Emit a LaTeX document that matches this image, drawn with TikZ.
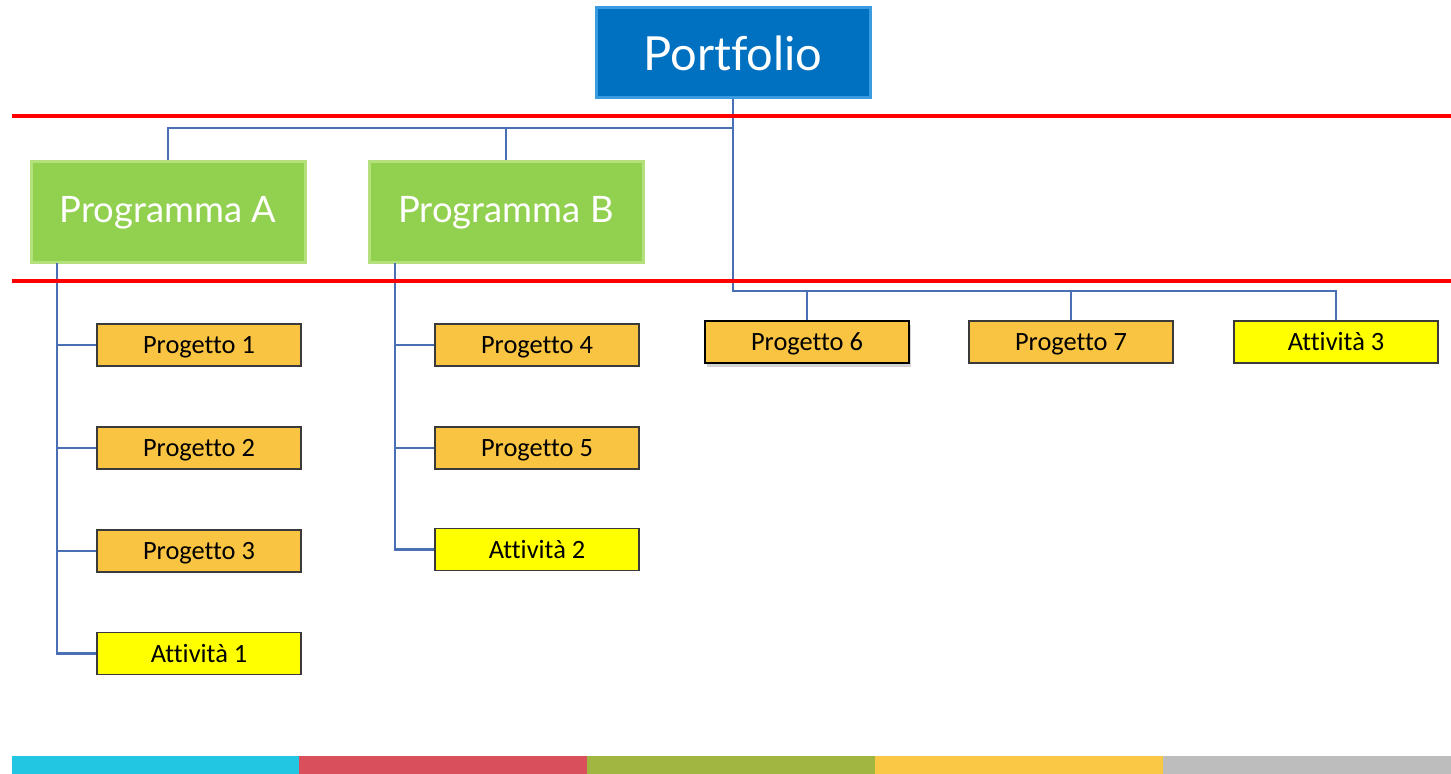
\documentclass[tikz,border=0pt]{standalone}
\usepackage{fontspec}
\setmainfont[Ligatures={NoCommon}]{Carlito}
\newfontfamily\latofont[Ligatures={NoCommon}]{Lato}
\usetikzlibrary{shadows}
\definecolor{pblue}{HTML}{0070C0}
\definecolor{pbluelight}{HTML}{3A9BE0}
\definecolor{pgreen}{HTML}{92D050}
\definecolor{pgreenlight}{HTML}{B4E07E}
\definecolor{porange}{HTML}{FAC443}
\definecolor{pyellow}{HTML}{FFFF00}
\definecolor{conn}{HTML}{4A6FB5}
\definecolor{redline}{HTML}{FF0000}
\definecolor{bcyan}{HTML}{22C5E2}
\definecolor{bred}{HTML}{D9505C}
\definecolor{bgreen}{HTML}{A1B641}
\definecolor{byellow}{HTML}{FAC844}
\definecolor{bgray}{HTML}{BDBDBD}
\definecolor{boxborder}{HTML}{3A3A3A}
\tikzset{
  topbox/.style={draw=pbluelight, line width=1.5pt, fill=pblue, minimum width=137pt, minimum height=45pt, inner sep=0pt, text=white, font=\latofont\fontsize{23.5}{28}\selectfont},
  progbox/.style={draw=pgreenlight, line width=1.5pt, fill=pgreen, minimum width=137pt, minimum height=50.5pt, inner sep=0pt, text=white, font=\latofont\fontsize{18.2}{22}\selectfont},
  projbox/.style={draw=boxborder, line width=0.6pt, fill=porange, minimum width=102pt, minimum height=21pt, inner sep=0pt, text height=9pt, text depth=0pt, font=\fontsize{13.2}{16}\selectfont},
  actbox/.style={projbox, fill=pyellow},
  link/.style={draw=conn, line width=1.4pt},
  rline/.style={draw=redline, line width=2pt}
}
\begin{document}
\begin{tikzpicture}[x=0.5pt,y=-0.5pt]
\useasboundingbox (0,0) rectangle (1451,774);
% nodes
\node[topbox] (port) at (733,53) {Portfolio};
\node[progbox] (pa) at (168,212.5) {Programma A};
\node[progbox] (pb) at (506,212.5) {Programma B};
\node[projbox] (p1) at (199,345) {Progetto 1};
\node[projbox] (p2) at (199,448) {Progetto 2};
\node[projbox] (p3) at (199,551) {Progetto 3};
\node[actbox] (a1) at (199,653.5) {Attività 1};
\node[projbox] (p4) at (537,345) {Progetto 4};
\node[projbox] (p5) at (537,448) {Progetto 5};
\node[actbox] (a2) at (537,549.5) {Attività 2};
\node[projbox, line width=1.2pt, draw=black, drop shadow={opacity=0.35, shadow xshift=1pt, shadow yshift=-2pt}] (p6) at (807,342) {Progetto 6};
\node[projbox] (p7) at (1071,342) {Progetto 7};
\node[actbox] (a3) at (1336,342) {Attività 3};
% coordinates
\coordinate (j1) at (733,128);
\coordinate (j2) at (733,291);
\coordinate (sa) at (57,263);
\coordinate (sb) at (395,263);
% connectors from portfolio
\draw[link] (port.south) -- (j1) -- (j1 -| pa.north) -- (pa.north);
\draw[link] (j1 -| pb.north) -- (pb.north);
\draw[link] (j1) -- (j2) -- (j2 -| a3.north) -- (a3.north);
\draw[link] (j2 -| p6.north) -- (p6.north);
\draw[link] (j2 -| p7.north) -- (p7.north);
% spine A
\draw[link] (sa) -- (sa |- a1.west) -- (a1.west);
\draw[link] (sa |- p1.west) -- (p1.west);
\draw[link] (sa |- p2.west) -- (p2.west);
\draw[link] (sa |- p3.west) -- (p3.west);
% spine B
\draw[link] (sb) -- (sb |- a2.west) -- (a2.west);
\draw[link] (sb |- p4.west) -- (p4.west);
\draw[link] (sb |- p5.west) -- (p5.west);
% red lines
\draw[rline] (12,116) -- (1451,116);
\draw[rline] (12,281) -- (1451,281);
% bottom bar
\fill[bcyan] (12,756) rectangle (299,774);
\fill[bred] (299,756) rectangle (587,774);
\fill[bgreen] (587,756) rectangle (875,774);
\fill[byellow] (875,756) rectangle (1163,774);
\fill[bgray] (1163,756) rectangle (1451,774);
\end{tikzpicture}
\end{document}
